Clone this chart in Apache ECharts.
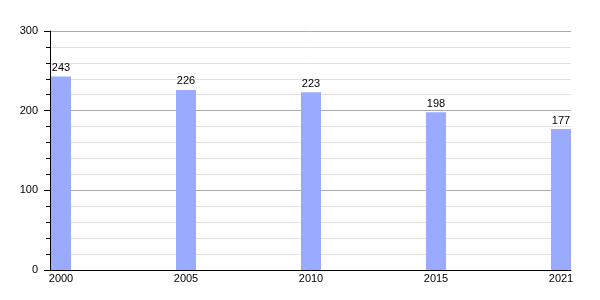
<!DOCTYPE html>
<html>
<head>
<meta charset="utf-8">
<script src="https://cdn.jsdelivr.net/npm/echarts@6/dist/echarts.min.js"></script>
<style>html,body{margin:0;padding:0;background:#fff}#c{width:600px;height:300px}</style>
</head>
<body>
<div id="c"></div>
<script>
const years = ['2000', '2005', '2010', '2015', '2021'];
const values = [243, 226, 223, 198, 177];
const yTicks = [0, 100, 200, 300];

const chart = echarts.init(document.getElementById('c'), null, {renderer: 'canvas'});
const font = 'Liberation Sans, Arial, sans-serif';
chart.setOption({
  animation: false,
  grid: {left: 50, right: 29, top: 31, bottom: 30, containLabel: false},
  xAxis: {
    type: 'value',
    min: -0.088,
    max: 4.08,
    axisLine: {show: true, onZero: false, lineStyle: {color: '#000', width: 1}},
    axisTick: {show: false},
    splitLine: {show: false},
    axisLabel: {
      customValues: years.map((y, i) => i),
      formatter: v => years[Math.round(v)],
      color: '#000', fontSize: 11, fontFamily: font, margin: 3
    }
  },
  yAxis: {
    type: 'value',
    min: yTicks[0],
    max: yTicks[yTicks.length - 1],
    interval: 100,
    axisLine: {show: true, onZero: false, lineStyle: {color: '#000', width: 1}},
    axisTick: {show: true, length: 6, lineStyle: {color: '#000'}},
    minorTick: {show: true, splitNumber: 5, length: 4, lineStyle: {color: '#000'}},
    splitLine: {show: true, lineStyle: {color: '#aaaaaa', width: 1}},
    minorSplitLine: {show: true, lineStyle: {color: '#e2e2e2', width: 1}},
    axisLabel: {color: '#000', fontSize: 11, fontFamily: font, margin: 12}
  },
  series: [{
    type: 'bar',
    data: values.map((v, i) => [i, v]),
    barWidth: 20,
    itemStyle: {color: '#9aabff'},
    label: {show: true, position: 'top', distance: 3, color: '#000', fontSize: 11, fontFamily: font}
  }]
});
</script>
</body>
</html>
